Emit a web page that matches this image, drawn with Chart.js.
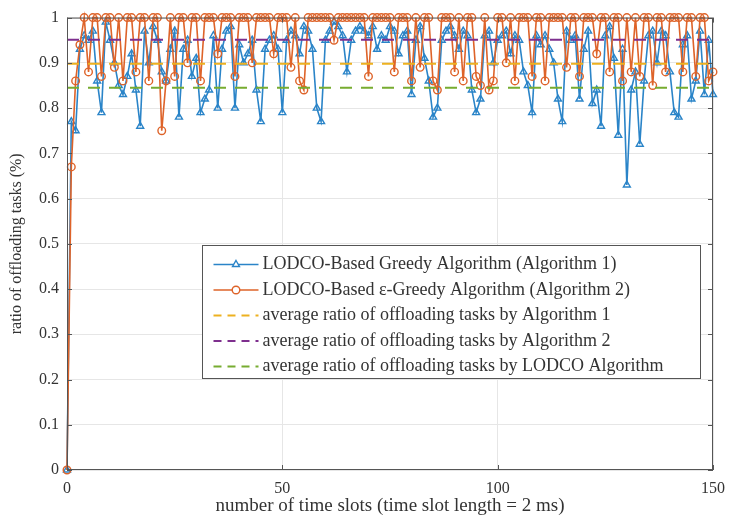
<!DOCTYPE html>
<html>
<head>
<meta charset="utf-8">
<style>
  html, body { margin: 0; padding: 0; background: #fff; }
  #wrap { width: 735px; height: 524px; }
</style>
<script src="https://cdn.jsdelivr.net/npm/chart.js@4.4.1/dist/chart.umd.min.js"></script>
</head>
<body>
<div id="wrap"><canvas id="c" width="735" height="524"></canvas></div>
<script>
(function () {
  "use strict";

  // ---- data (time slot 0..150) ----
  var SLOTS = [];
  for (var s = 0; s <= 150; s++) SLOTS.push(s);

  var GREEDY = [0, 0.77, 0.75, 0.93, 0.96, 0.95, 0.97, 0.86, 0.79, 0.99,
    0.95, 0.90, 0.85, 0.83, 0.87, 0.92, 0.84, 0.76, 0.97, 0.90,
    0.98, 0.95, 0.88, 0.86, 0.93, 0.97, 0.78, 0.93, 0.95, 0.87,
    0.91, 0.79, 0.82, 0.84, 0.96, 0.80, 0.93, 0.97, 0.98, 0.80,
    0.94, 0.90, 0.92, 0.95, 0.84, 0.77, 0.93, 0.95, 0.96, 0.93,
    0.79, 0.95, 0.97, 0.96, 0.92, 0.98, 0.97, 0.93, 0.80, 0.77,
    0.95, 0.97, 0.99, 0.98, 0.96, 0.88, 0.95, 0.97, 0.98, 0.97,
    0.96, 0.98, 0.93, 0.96, 0.95, 0.98, 0.97, 0.92, 0.96, 0.97,
    0.83, 0.95, 0.98, 0.91, 0.86, 0.78, 0.80, 0.95, 0.97, 0.98,
    0.96, 0.93, 0.97, 0.96, 0.84, 0.79, 0.82, 0.96, 0.97, 0.90,
    0.95, 0.96, 0.97, 0.92, 0.96, 0.95, 0.88, 0.85, 0.79, 0.96,
    0.94, 0.96, 0.93, 0.90, 0.82, 0.77, 0.97, 0.95, 0.96, 0.82,
    0.93, 0.97, 0.81, 0.84, 0.76, 0.96, 0.98, 0.91, 0.74, 0.93,
    0.63, 0.84, 0.88, 0.72, 0.86, 0.96, 0.97, 0.90, 0.97, 0.96,
    0.88, 0.79, 0.78, 0.94, 0.96, 0.82, 0.86, 0.97, 0.83, 0.95,
    0.83];

  var EPS_GREEDY = [0, 0.67, 0.86, 0.94, 1, 0.88, 1, 1, 0.87, 1,
    1, 0.89, 1, 0.86, 1, 1, 0.88, 1, 1, 0.86,
    1, 1, 0.75, 0.86, 1, 0.87, 1, 1, 0.90, 1,
    1, 0.86, 1, 1, 1, 0.92, 1, 1, 1, 0.87,
    1, 1, 1, 0.90, 1, 1, 1, 1, 0.92, 1,
    1, 1, 0.89, 1, 0.86, 0.84, 1, 1, 1, 1,
    1, 1, 0.95, 1, 1, 1, 1, 1, 1, 1,
    0.87, 1, 1, 1, 1, 1, 0.88, 1, 1, 1,
    0.86, 1, 0.89, 1, 1, 0.86, 0.84, 1, 1, 1,
    0.88, 1, 0.86, 1, 1, 0.87, 0.85, 1, 0.84, 0.86,
    1, 1, 0.90, 1, 0.86, 1, 1, 1, 0.87, 1,
    1, 0.86, 1, 1, 1, 1, 0.89, 1, 1, 0.87,
    1, 1, 1, 0.92, 1, 1, 0.88, 1, 1, 0.86,
    1, 0.88, 1, 0.87, 1, 1, 0.85, 1, 1, 0.88,
    1, 1, 1, 0.88, 1, 1, 0.87, 1, 1, 0.86,
    0.88];

  var AVG_ALG1 = 0.898;
  var AVG_ALG2 = 0.951;
  var AVG_LODCO = 0.845;

  var LABELS = [
    "LODCO-Based Greedy Algorithm (Algorithm 1)",
    "LODCO-Based \u03b5-Greedy Algorithm (Algorithm 2)",
    "average ratio of offloading tasks by Algorithm 1",
    "average ratio of offloading tasks by Algorithm 2",
    "average ratio of offloading tasks by LODCO Algorithm"
  ];
  var X_TITLE = "number of time slots (time slot length = 2 ms)";
  var Y_TITLE = "ratio of offloading tasks (%)";

  var BLUE = "#2a84c8", ORANGE = "#de6329", YELLOW = "#edb120", PURPLE = "#7e2f8e", GREEN = "#77ac30";
  var SERIF = "'Liberation Serif', 'Times New Roman', serif";
  var INK = "#333";

  function pts(arr) { return SLOTS.map(function (x, i) { return { x: x, y: arr[i] }; }); }
  function flat(v) { return [{ x: SLOTS[0], y: v }, { x: SLOTS[SLOTS.length - 1], y: v }]; }

  // box + inward ticks like a MATLAB axes, and the in-plot legend
  var framePlugin = {
    id: "frame",
    afterDraw: function (chart) {
      var ctx = chart.ctx, a = chart.chartArea, xs = chart.scales.x, ys = chart.scales.y;
      ctx.save();
      ctx.strokeStyle = "#555"; ctx.lineWidth = 1;
      ctx.strokeRect(a.left + 0.5, a.top + 0.5, a.right - a.left - 1, a.bottom - a.top - 1);
      ctx.beginPath();
      ys.ticks.forEach(function (t) {
        var y = Math.round(ys.getPixelForValue(t.value)) + 0.5;
        ctx.moveTo(a.left, y); ctx.lineTo(a.left + 5, y);
        ctx.moveTo(a.right, y); ctx.lineTo(a.right - 5, y);
      });
      xs.ticks.forEach(function (t) {
        var x = Math.round(xs.getPixelForValue(t.value)) + 0.5;
        ctx.moveTo(x, a.bottom); ctx.lineTo(x, a.bottom - 5);
        ctx.moveTo(x, a.top); ctx.lineTo(x, a.top + 5);
      });
      ctx.stroke();

      // legend box
      var w = a.right - a.left, h = a.bottom - a.top;
      var bx = Math.round(a.left + 0.209 * w) + 0.5, by = Math.round(a.top + 0.502 * h) + 0.5;
      var bw = Math.round(0.771 * w), bh = Math.round(0.293 * h);
      ctx.fillStyle = "#fff";
      ctx.fillRect(bx, by, bw, bh);
      ctx.strokeStyle = "#555";
      ctx.strokeRect(bx, by, bw, bh);
      ctx.font = "18px " + SERIF;
      ctx.textBaseline = "middle";
      ctx.textAlign = "left";
      chart.data.datasets.forEach(function (ds, k) {
        var ry = by + 19 + k * 25.5;
        var x0 = bx + 11, x1 = bx + 56;
        ctx.strokeStyle = ds.borderColor;
        ctx.lineWidth = ds.borderWidth;
        ctx.setLineDash(ds.borderDash ? [8, 6] : []);
        ctx.beginPath(); ctx.moveTo(x0, ry); ctx.lineTo(x1, ry); ctx.stroke();
        ctx.setLineDash([]);
        if (ds.pointRadius) {
          ctx.fillStyle = "#fff";
          ctx.strokeStyle = ds.pointBorderColor;
          ctx.lineWidth = ds.pointBorderWidth;
          Chart.helpers.drawPoint(ctx, {
            pointStyle: ds.pointStyle, radius: ds.pointRadius, borderWidth: ds.pointBorderWidth, rotation: 0
          }, (x0 + x1) / 2, ry);
        }
        ctx.fillStyle = INK;
        ctx.fillText(ds.label, x1 + 4, ry);
      });
      ctx.restore();
    }
  };

  new Chart(document.getElementById("c"), {
    type: "line",
    data: {
      datasets: [
        { label: LABELS[0], data: pts(GREEDY), borderColor: BLUE, borderWidth: 1.6,
          pointStyle: "triangle", pointRadius: 4, pointBorderWidth: 1.4,
          pointBackgroundColor: "rgba(255,255,255,0)", pointBorderColor: BLUE, order: 5, clip: false },
        { label: LABELS[1], data: pts(EPS_GREEDY), borderColor: ORANGE, borderWidth: 1.6,
          pointStyle: "circle", pointRadius: 3.8, pointBorderWidth: 1.4,
          pointBackgroundColor: "rgba(255,255,255,0)", pointBorderColor: ORANGE, order: 4, clip: false },
        { label: LABELS[2], data: flat(AVG_ALG1), borderColor: YELLOW, borderWidth: 2,
          borderDash: [12, 9], pointRadius: 0, order: 3 },
        { label: LABELS[3], data: flat(AVG_ALG2), borderColor: PURPLE, borderWidth: 2,
          borderDash: [12, 9], pointRadius: 0, order: 2 },
        { label: LABELS[4], data: flat(AVG_LODCO), borderColor: GREEN, borderWidth: 2,
          borderDash: [12, 9], pointRadius: 0, order: 1 }
      ]
    },
    options: {
      responsive: false,
      animation: false,
      layout: { padding: { top: 16, right: 22, left: 0, bottom: 0 } },
      plugins: { legend: { display: false }, tooltip: { enabled: false } },
      elements: { line: { tension: 0 } },
      scales: {
        x: {
          type: "linear", min: 0, max: 150,
          ticks: { stepSize: 50, padding: 9, color: INK, font: { family: SERIF, size: 16 } },
          grid: { color: "#e6e6e6", drawTicks: false },
          border: { display: false },
          title: { display: true, text: X_TITLE, color: INK, font: { family: SERIF, size: 19 }, padding: { top: 0, bottom: 7 } },
          afterFit: function (sc) { sc.height = 54; }
        },
        y: {
          min: 0, max: 1,
          ticks: {
            stepSize: 0.1, padding: 8, color: INK, font: { family: SERIF, size: 16 },
            callback: function (v) { return String(Math.round(v * 10) / 10); }
          },
          grid: { color: "#e6e6e6", drawTicks: false },
          border: { display: false },
          title: { display: true, text: Y_TITLE, color: INK, font: { family: SERIF, size: 16 }, padding: { top: 7, bottom: 0 } },
          afterFit: function (sc) { sc.width = 67; }
        }
      }
    },
    plugins: [framePlugin]
  });
})();
</script>
</body>
</html>
